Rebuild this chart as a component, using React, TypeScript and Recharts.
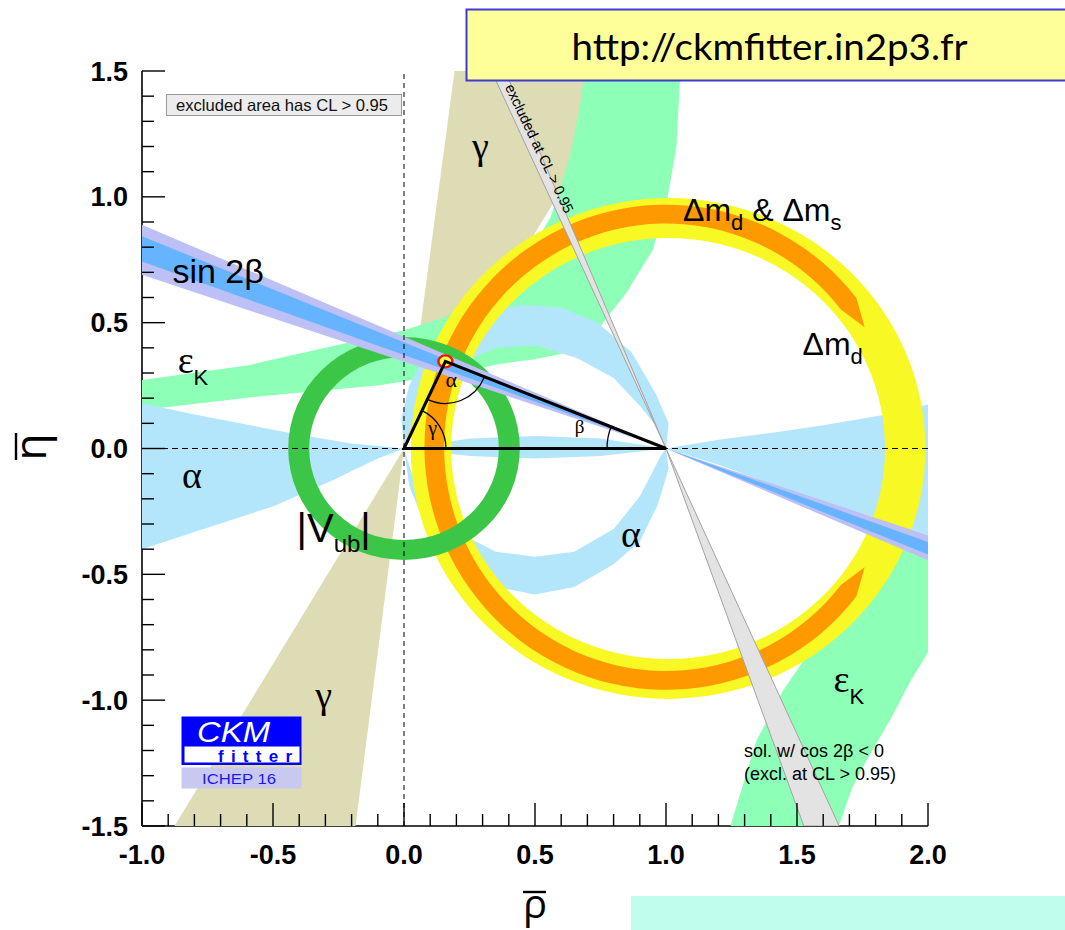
import React from 'react';
import { ComposedChart, Scatter, XAxis, YAxis } from 'recharts';

type V = [number, number];

// axis ticks (every 0.1, labelled every 0.5)
const RHO_TICKS = [-1, -0.9, -0.8, -0.7, -0.6, -0.5, -0.4, -0.3, -0.2, -0.1, 0, 0.1, 0.2, 0.3, 0.4, 0.5, 0.6, 0.7, 0.8, 0.9, 1, 1.1, 1.2, 1.3, 1.4, 1.5, 1.6, 1.7, 1.8, 1.9, 2];
const ETA_TICKS = [-1.5, -1.4, -1.3, -1.2, -1.1, -1, -0.9, -0.8, -0.7, -0.6, -0.5, -0.4, -0.3, -0.2, -0.1, 0, 0.1, 0.2, 0.3, 0.4, 0.5, 0.6, 0.7, 0.8, 0.9, 1, 1.1, 1.2, 1.3, 1.4, 1.5];

// gamma: double wedge from the origin
const gammaUpper: V[] = [[0, 0], [0.193, 1.5], [0.876, 1.5]];
const gammaLower: V[] = [[0, 0], [-0.185, -1.5], [-0.876, -1.5]];

// epsilon_K hyperbola, both branches
const epsKUpper: V[] = [
  [-1, 0.272], [-0.6, 0.33], [-0.3, 0.4], [0, 0.47], [0.15, 0.52], [0.3, 0.6], [0.45, 0.73], [0.56, 0.92], [0.63, 1.15], [0.67, 1.35], [0.69, 1.5],
  [1.055, 1.5], [1.04, 1.2], [1.005, 0.99], [0.95, 0.79], [0.85, 0.62], [0.73, 0.46], [0.62, 0.38], [0.5, 0.355], [0.36, 0.335], [0.2, 0.3], [-0.1, 0.25], [-0.5, 0.213], [-1, 0.153],
];
const epsKLower: V[] = [
  [1.92, -0.38], [2, -0.36], [2, -0.81], [1.93, -0.93], [1.86, -1.07], [1.76, -1.25], [1.71, -1.35], [1.66, -1.5],
  [1.246, -1.5], [1.345, -1.16], [1.448, -0.96], [1.56, -0.79], [1.68, -0.63], [1.8, -0.49],
];

// alpha solutions
const alphaLeft: V[] = [
  [-1, 0.18], [-0.8, 0.135], [-0.6, 0.095], [-0.4, 0.055], [-0.2, 0.02], [0, 0],
  [-0.1, -0.04], [-0.27, -0.125], [-0.5, -0.23], [-0.78, -0.325], [-1, -0.4],
];
const alphaRight: V[] = [
  [1, 0], [1.2, 0.035], [1.4, 0.062], [1.6, 0.092], [1.83, 0.133], [2, 0.175],
  [2, -0.345], [1.8, -0.275], [1.6, -0.215], [1.4, -0.14], [1.2, -0.065],
];
const alphaLens: V[] = [[0, 0], [0.25, 0.04], [0.5, 0.05], [0.75, 0.04], [1, 0], [0.75, -0.03], [0.5, -0.04], [0.25, -0.03]];
const alphaUpper: V[] = [
  [0, 0], [-0.01, 0.12], [0.02, 0.25], [0.08, 0.37], [0.18, 0.47], [0.3, 0.54], [0.45, 0.57], [0.6, 0.56], [0.74, 0.5], [0.87, 0.38], [0.96, 0.22], [1.01, 0.1], [1, 0],
  [0.97, 0.08], [0.9, 0.17], [0.8, 0.28], [0.66, 0.36], [0.5, 0.41], [0.35, 0.4], [0.22, 0.34], [0.12, 0.25], [0.05, 0.14], [0.01, 0.05],
];
const alphaLower: V[] = [
  [0, 0], [0.02, -0.15], [0.08, -0.3], [0.2, -0.45], [0.35, -0.55], [0.5, -0.58], [0.65, -0.55], [0.8, -0.46], [0.9, -0.37], [0.97, -0.22], [1.01, -0.08], [1, 0],
  [0.98, -0.03], [0.95, -0.09], [0.9, -0.19], [0.8, -0.32], [0.65, -0.41], [0.5, -0.43], [0.35, -0.41], [0.2, -0.33], [0.1, -0.22], [0.03, -0.1],
];

// rings: centre, outer radii (rho, eta), inner radii (rho, eta)
const dmdRing: V[] = [[1.008, 0], [0.982, 0.995], [0.828, 0.836]];
const dmsRing: V[] = [[1.0, 0.005], [0.922, 0.964], [0.847, 0.889]];
const dmsSpan = [38, 322]; // degrees, open on the right
const vubRing: V[] = [[0, 0], [0.442, 0.443], [0.362, 0.364]];

// sin 2beta: wedges through (1, 0)
const sin2bOuterUp: V[] = [[1, 0], [-1, 0.889], [-1, 0.69]];
const sin2bOuterDown: V[] = [[1, 0], [2, -0.345], [2, -0.4445]];
const sin2bInnerUp: V[] = [[1, 0], [-1, 0.843], [-1, 0.743]];
const sin2bInnerDown: V[] = [[1, 0], [2, -0.3715], [2, -0.4215]];

// cos 2beta < 0 solution (excluded)
const cos2bUp: V[] = [[1, 0], [0.334, 1.5], [0.3865, 1.5]];
const cos2bDown: V[] = [[1, 0], [1.526, -1.5], [1.661, -1.5]];

// global fit and unitarity triangle
const fitPoint: V = [0.158, 0.346];
const triangle: V[] = [[0, 0], fitPoint, [1, 0]];

const rhoZero: V[] = [[0, -1.5], [0, 1.5]];
const etaZero: V[] = [[-1, 0], [2, 0]];

const W = 1065;
const H = 930;
const SANS = '"Liberation Sans", Arial, Helvetica, sans-serif';
const SERIF = '"Liberation Serif", "Times New Roman", serif';
const TITLE = '"Open Sans", "DejaVu Sans", sans-serif';

const rows = (vs: V[]) => vs.map(([rho, eta]) => ({ rho, eta }));
const ringRows = ([c, o, i]: V[]) => rows([c, [c[0] + o[0], c[1] + o[1]], [c[0] + i[0], c[1] + i[1]]]);

type P = { x: number; y: number };
const toD = (ps: P[]) => ps.map((p, k) => `${k ? 'L' : 'M'}${p.x},${p.y}`).join('') + 'Z';
const hide = () => <g />;

const fillPoly = (fill: string, stroke = 'none', sw = 0) => (p: any) => (
  <path d={toD(p.points)} fill={fill} stroke={stroke} strokeWidth={sw} />
);

const ellipseD = (cx: number, cy: number, rx: number, ry: number) =>
  `M${cx + rx},${cy}A${rx},${ry} 0 1 0 ${cx - rx},${cy}A${rx},${ry} 0 1 0 ${cx + rx},${cy}Z`;

const fillRing = (fill: string) => (p: any) => {
  const [c, o, i] = p.points as P[];
  return (
    <path
      d={ellipseD(c.x, c.y, o.x - c.x, c.y - o.y) + ellipseD(c.x, c.y, i.x - c.x, c.y - i.y)}
      fill={fill}
      fillRule="evenodd"
    />
  );
};

// partial ring with pointed ends
const fillArc = (fill: string, from: number, to: number) => (p: any) => {
  const [c, o, i] = p.points as P[];
  const rxo = o.x - c.x, ryo = c.y - o.y, rxi = i.x - c.x, ryi = c.y - i.y;
  const at = (rx: number, ry: number, deg: number) => {
    const t = (deg * Math.PI) / 180;
    return `${c.x + rx * Math.cos(t)},${c.y - ry * Math.sin(t)}`;
  };
  const big = to - from > 180 ? 1 : 0;
  const rxm = (rxo + rxi) / 2, rym = (ryo + ryi) / 2;
  const d =
    `M${at(rxo, ryo, from)}A${rxo},${ryo} 0 ${big} 0 ${at(rxo, ryo, to)}` +
    `L${at(rxm, rym, to + 7)}L${at(rxi, ryi, to)}` +
    `A${rxi},${ryi} 0 ${big} 1 ${at(rxi, ryi, from)}L${at(rxm, rym, from - 7)}Z`;
  return <path d={d} fill={fill} />;
};

const drawTriangle = (p: any) => {
  const [A, B, C] = p.points as P[];
  const arc = (O: P, Pp: P, Q: P, r: number) => {
    const lu = Math.hypot(Pp.x - O.x, Pp.y - O.y), lv = Math.hypot(Q.x - O.x, Q.y - O.y);
    const u = { x: (Pp.x - O.x) / lu, y: (Pp.y - O.y) / lu };
    const v = { x: (Q.x - O.x) / lv, y: (Q.y - O.y) / lv };
    const sweep = u.x * v.y - u.y * v.x > 0 ? 1 : 0;
    return `M${O.x + u.x * r},${O.y + u.y * r}A${r},${r} 0 0 ${sweep} ${O.x + v.x * r},${O.y + v.y * r}`;
  };
  return (
    <g>
      <path d={arc(A, C, B, 42) + arc(B, A, C, 42) + arc(C, A, B, 59)} fill="none" stroke="#000" strokeWidth={1.3} />
      <path d={toD([A, B, C])} fill="none" stroke="#000" strokeWidth={3} strokeLinejoin="miter" />
    </g>
  );
};

const drawFit = (p: any) => (
  <ellipse cx={p.cx} cy={p.cy} rx={7} ry={6} fill="#ffff40" stroke="#ee1111" strokeWidth={2.4} />
);

const region = (key: string, data: any[], line: any) => (
  <Scatter key={key} data={data} dataKey="eta" line={line} shape={hide} isAnimationActive={false} legendType="none" />
);

const tag = (key: string, at: V, draw: (x: number, y: number) => React.ReactNode) => (
  <Scatter
    key={key}
    data={rows([at])}
    dataKey="eta"
    shape={(p: any) => <g>{draw(p.cx, p.cy)}</g>}
    isAnimationActive={false}
    legendType="none"
  />
);

const isMajor = (v: number) => Math.abs(v * 2 - Math.round(v * 2)) < 1e-6;
const len = (v: number) => (isMajor(v) ? 23 : 12);
const TICK = { stroke: '#000', strokeWidth: 1.4 };
const FRAME = { stroke: '#000', strokeWidth: 1.6 };

const BottomTick = ({ x, y, payload }: any) => (
  <g>
    <line x1={x} x2={x} y1={y} y2={y - len(payload.value)} {...TICK} />
    {isMajor(payload.value) && (
      <text x={x} y={y + 37.5} textAnchor="middle" fontFamily={SANS} fontWeight="bold" fontSize={27} fill="#000">
        {payload.value.toFixed(1)}
      </text>
    )}
  </g>
);
const TopTick = ({ x, y, payload }: any) => <line x1={x} x2={x} y1={y} y2={y + len(payload.value)} {...TICK} />;
const LeftTick = ({ x, y, payload }: any) => (
  <g>
    <line x1={x} x2={x + len(payload.value)} y1={y} y2={y} {...TICK} />
    {isMajor(payload.value) && (
      <text x={x - 14} y={y + 9.5} textAnchor="end" fontFamily={SANS} fontWeight="bold" fontSize={27} fill="#000">
        {payload.value.toFixed(1)}
      </text>
    )}
  </g>
);
const RightTick = ({ x, y, payload }: any) => <line x1={x} x2={x - len(payload.value)} y1={y} y2={y} {...TICK} />;

const Overlay = () => (
  <svg width={W} height={H} style={{ position: 'absolute', left: 0, top: 0, pointerEvents: 'none' }}>
    <rect x={166.5} y={94.5} width={235} height={21} fill="#ececec" stroke="#9a9a9a" />
    <text x={176} y={110.5} fontFamily={SANS} fontSize={16.5} fill="#111" textLength={212} lengthAdjust="spacingAndGlyphs">
      excluded area has CL &gt; 0.95
    </text>

    {/* CKMfitter logo */}
    <rect x={181.5} y={716.5} width={120} height={48.5} fill="#0000ff" />
    <rect x={184.5} y={746.5} width={115} height={16} fill="#ffffff" />
    <text x={197} y={741.5} fontFamily={SANS} fontStyle="italic" fontSize={30} fill="#ffffff" textLength={73} lengthAdjust="spacingAndGlyphs">CKM</text>
    <text x={218} y={761.5} fontFamily={SANS} fontWeight="bold" fontSize={17} fill="#0000ff" textLength={74} lengthAdjust="spacing">fitter</text>
    <rect x={181.5} y={767.5} width={120} height={21} fill="#c8c8f0" />
    <text x={202} y={783.5} fontFamily={SANS} fontSize={15} fill="#1a1aee" textLength={74} lengthAdjust="spacingAndGlyphs">ICHEP 16</text>

    {/* banners */}
    <rect x={466.5} y={9.5} width={620} height={71} fill="#ffff99" stroke="#3b3bd0" strokeWidth={2} />
    <text x={571.5} y={60} fontFamily='Lato, "Open Sans", sans-serif' fontSize={37} fill="#000" textLength={396} lengthAdjust="spacingAndGlyphs">
      http://ckmfitter.in2p3.fr
    </text>
    <rect x={631} y={896} width={440} height={40} fill="#c0fdec" />
    <text x={656} y={985.5} fontFamily={SANS} fontSize={80} fill="#000" textLength={440} lengthAdjust="spacing">ICHEP 2016</text>

    {/* axis titles */}
    <g transform="translate(46,447) rotate(-90)">
      <text x={0} y={0} textAnchor="middle" fontFamily={TITLE} fontSize={44} fill="#000">η</text>
      <line x1={-13} x2={14} y1={-30} y2={-30} stroke="#000" strokeWidth={2.4} />
    </g>
    <text x={535} y={918} textAnchor="middle" fontFamily={TITLE} fontSize={40} fill="#000">ρ</text>
    <line x1={523} x2={546} y1={892} y2={892} stroke="#000" strokeWidth={2.4} />
  </svg>
);

export default function App() {
  return (
    <div style={{ position: 'absolute', left: 0, top: 0, width: W, height: H, background: '#fff', overflow: 'hidden' }}>
      <ComposedChart width={W} height={H} margin={{ top: 71, right: 137, bottom: 44, left: 0 }}>
        <XAxis xAxisId={0} type="number" dataKey="rho" domain={[-1, 2]} ticks={RHO_TICKS} interval={0} allowDataOverflow
          tick={BottomTick} tickLine={false} tickSize={0} tickMargin={0} height={60} axisLine={FRAME} />
        <XAxis xAxisId="top" orientation="top" type="number" dataKey="rho" domain={[-1, 2]} ticks={RHO_TICKS} interval={0} allowDataOverflow
          tick={TopTick} tickLine={false} tickSize={0} tickMargin={0} height={0} axisLine={FRAME} />
        <YAxis yAxisId={0} type="number" dataKey="eta" domain={[-1.5, 1.5]} ticks={ETA_TICKS} interval={0} allowDataOverflow
          tick={LeftTick} tickLine={false} tickSize={0} tickMargin={0} width={142} axisLine={FRAME} />
        <YAxis yAxisId="right" orientation="right" type="number" dataKey="eta" domain={[-1.5, 1.5]} ticks={ETA_TICKS} interval={0} allowDataOverflow
          tick={RightTick} tickLine={false} tickSize={0} tickMargin={0} width={0} axisLine={FRAME} />

        {region('gU', rows(gammaUpper), fillPoly('#dedcb4'))}
        {region('gL', rows(gammaLower), fillPoly('#dedcb4'))}
        {region('eU', rows(epsKUpper), fillPoly('#8effb6'))}
        {region('eL', rows(epsKLower), fillPoly('#8effb6'))}
        {region('aL', rows(alphaLeft), fillPoly('#b3e6fb'))}
        {region('aR', rows(alphaRight), fillPoly('#b3e6fb'))}
        {region('aM', rows(alphaLens), fillPoly('#b3e6fb'))}
        {region('aU', rows(alphaUpper), fillPoly('#b3e6fb'))}
        {region('aD', rows(alphaLower), fillPoly('#b3e6fb'))}
        {region('dmd', ringRows(dmdRing), fillRing('#f8f825'))}
        {region('dms', ringRows(dmsRing), fillArc('#ff9900', dmsSpan[0], dmsSpan[1]))}
        {region('vub', ringRows(vubRing), fillRing('#3cc648'))}
        {region('sOU', rows(sin2bOuterUp), fillPoly('#bcc0f5'))}
        {region('sOD', rows(sin2bOuterDown), fillPoly('#bcc0f5'))}
        {region('sIU', rows(sin2bInnerUp), fillPoly('#66b3ff'))}
        {region('sID', rows(sin2bInnerDown), fillPoly('#66b3ff'))}
        {region('cU', rows(cos2bUp), fillPoly('#e3e3e3', '#a2a2a2', 1))}
        {region('cD', rows(cos2bDown), fillPoly('#e3e3e3', '#a2a2a2', 1))}
        {region('z0', rows(rhoZero), { stroke: '#000', strokeWidth: 1, strokeDasharray: '5 4' })}
        {region('z1', rows(etaZero), { stroke: '#000', strokeWidth: 1, strokeDasharray: '6 4' })}

        <Scatter data={rows([fitPoint])} dataKey="eta" shape={drawFit} isAnimationActive={false} legendType="none" />
        {region('tri', rows(triangle), drawTriangle)}

        {tag('t-a', [0.18, 0.273], (x, y) => <text x={x} y={y} textAnchor="middle" dominantBaseline="central" fontFamily={SERIF} fontSize={22}>α</text>)}
        {tag('t-g', [0.109, 0.082], (x, y) => <text x={x} y={y} textAnchor="middle" dominantBaseline="central" fontFamily={SERIF} fontSize={20}>γ</text>)}
        {tag('t-b', [0.67, 0.086], (x, y) => <text x={x} y={y} textAnchor="middle" dominantBaseline="central" fontFamily={SERIF} fontSize={19}>β</text>)}

        {tag('l-g1', [0.292, 1.152], (x, y) => <text x={x} y={y} textAnchor="middle" fontFamily={SERIF} fontSize={38}>γ</text>)}
        {tag('l-g2', [-0.307, -1.033], (x, y) => <text x={x} y={y} textAnchor="middle" fontFamily={SERIF} fontSize={38}>γ</text>)}
        {tag('l-s', [-0.884, 0.657], (x, y) => <text x={x} y={y} fontFamily={SANS} fontSize={34}>sin 2β</text>)}
        {tag('l-e1', [-0.864, 0.3], (x, y) => (
          <text x={x} y={y} fontFamily={SERIF} fontSize={38}>ε<tspan fontFamily={SANS} fontSize={22} dy={12}>K</tspan></text>
        ))}
        {tag('l-e2', [1.639, -0.969], (x, y) => (
          <text x={x} y={y} fontFamily={SERIF} fontSize={38}>ε<tspan fontFamily={SANS} fontSize={22} dy={12}>K</tspan></text>
        ))}
        {tag('l-a1', [-0.809, -0.157], (x, y) => <text x={x} y={y} textAnchor="middle" fontFamily={SERIF} fontSize={38}>α</text>)}
        {tag('l-a2', [0.866, -0.392], (x, y) => <text x={x} y={y} textAnchor="middle" fontFamily={SERIF} fontSize={38}>α</text>)}
        {tag('l-v', [-0.41, -0.372], (x, y) => (
          <text x={x} y={y} fontFamily={SANS} fontSize={40}>|V<tspan fontSize={24} dy={10}>ub</tspan><tspan fontSize={40} dy={-10}>|</tspan></text>
        ))}
        {tag('l-dms', [1.065, 0.9025], (x, y) => (
          <text x={x} y={y} fontFamily={SANS} fontSize={32}>
            Δm<tspan fontSize={22} dy={9}>d</tspan><tspan dy={-9}> &amp; Δm</tspan><tspan fontSize={22} dy={9}>s</tspan>
          </text>
        ))}
        {tag('l-dmd', [1.521, 0.372], (x, y) => (
          <text x={x} y={y} fontFamily={SANS} fontSize={32}>Δm<tspan fontSize={22} dy={9}>d</tspan></text>
        ))}
        {tag('l-ex', [0.517, 1.192], (x, y) => (
          <text x={x} y={y} transform={`rotate(64.7 ${x} ${y})`} textAnchor="middle" dominantBaseline="central" fontFamily={SANS} fontSize={14.5}>
            excluded at CL &gt; 0.95
          </text>
        ))}
        {tag('l-c1', [1.298, -1.226], (x, y) => <text x={x} y={y} fontFamily={SANS} fontSize={18}>sol. w/ cos 2β &lt; 0</text>)}
        {tag('l-c2', [1.298, -1.319], (x, y) => <text x={x} y={y} fontFamily={SANS} fontSize={18}>(excl. at CL &gt; 0.95)</text>)}
      </ComposedChart>
      <Overlay />
    </div>
  );
}
